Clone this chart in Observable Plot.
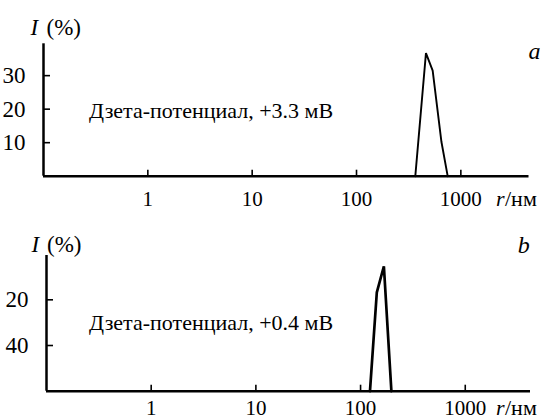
<!DOCTYPE html>
<html><head><meta charset="utf-8">
<script src="https://cdn.jsdelivr.net/npm/d3@7"></script>
<script src="https://cdn.jsdelivr.net/npm/@observablehq/plot@0.6"></script>
<style>body{margin:0;background:#fff;} svg{display:block;}</style>
</head><body><div id="chart"></div>
<script>
// Shared x axis (log scale, radius in nm)
const xTicks = [1, 10, 100, 1000];
const xTickLabels = ["1", "10", "100", "1000"];
const xUnitItalic = "r";
const xUnitRest = "/нм";
const yTitleItalic = "I";
const yTitleRest = "(%)";

// Panel a
const rA = [366, 463, 537, 652, 748];
const iA = [0, 36.7, 31.5, 10.2, 0];
const yTicksA = [10, 20, 30];
const yTickLabelsA = ["10", "20", "30"];
const letterA = "a";
const annotationA = "Дзета-потенциал, +3.3 мВ";

// Panel b
const rB = [123, 143, 167, 197];
const iB = [0, 43.3, 54.7, 0];
const yTicksB = [20, 40];
const yTickLabelsB = ["40", "20"];   // as printed in the original (top "20", lower "40")
const letterB = "b";
const annotationB = "Дзета-потенциал, +0.4 мВ";

const FONT = "Liberation Serif, DejaVu Serif, Times New Roman, serif";

function panel(o) {
  const W = 545, H = 210;
  const data = o.r.map((r, i) => ({r, I: o.I[i]}));
  const xLab = new Map(xTicks.map((d, i) => [d, xTickLabels[i]]));
  const yLab = new Map(o.yTicks.map((d, i) => [d, o.yLabels[i]]));
  const t = (fs) => ({fontFamily: FONT, fontSize: fs, fill: "#000"});
  // inward tick lengths converted to data units via the scales' pixel ranges
  const yScale = d3.scaleLinear(o.yDomain, [H - o.mb, o.mt]);
  const xScale = d3.scaleLog(o.xDomain, [o.ml, W - o.mr]);
  const xTickTop = yScale.invert(H - o.mb - 6);
  const yTickEnd = xScale.invert(o.ml + 7);
  const svg = Plot.plot({
    width: W, height: H,
    marginLeft: o.ml, marginRight: o.mr, marginTop: o.mt, marginBottom: o.mb,
    style: `font-family: ${FONT}; font-size: 21px; color: #000; background: #fff; overflow: visible;`,
    x: {type: "log", domain: o.xDomain},
    y: {domain: o.yDomain},
    marks: [
      Plot.ruleY([0], {stroke: "#000", strokeWidth: 2.5}),
      Plot.ruleX([o.xDomain[0]], {stroke: "#000", strokeWidth: 2.5}),
      Plot.ruleX(xTicks, {x: d => d, y1: 0, y2: xTickTop, stroke: "#000", strokeWidth: 1.6}),
      Plot.ruleY(o.yTicks, {y: d => d, x1: o.xDomain[0], x2: yTickEnd, stroke: "#000", strokeWidth: 1.6}),
      Plot.axisX(xTicks, {tickSize: 0, tickPadding: o.xPad, tickFormat: d => xLab.get(d), label: null, ...t(21)}),
      Plot.axisY(o.yTicks, {tickSize: 0, tickPadding: o.yPad, tickFormat: d => yLab.get(d), label: null, ...t(23)}),
      Plot.line(data, {x: "r", y: "I", stroke: "#000", strokeWidth: o.sw, strokeLinejoin: "miter"}),
      Plot.text([yTitleItalic], {text: d => d, frameAnchor: "top-left", dx: o.tI[0], dy: o.tI[1], textAnchor: "start", lineAnchor: "middle", fontStyle: "italic", ...t(23)}),
      Plot.text([yTitleRest], {text: d => d, frameAnchor: "top-left", dx: o.tP[0], dy: o.tP[1], textAnchor: "start", lineAnchor: "middle", ...t(23)}),
      Plot.text([o.letter], {text: d => d, frameAnchor: "top-right", dx: o.tL[0], dy: o.tL[1], textAnchor: "middle", lineAnchor: "middle", fontStyle: "italic", ...t(24)}),
      Plot.text([o.annotation], {text: d => d, frameAnchor: "top-left", dx: o.tA[0], dy: o.tA[1], textAnchor: "start", lineAnchor: "middle", ...t(22)}),
      Plot.text([xUnitItalic], {text: d => d, frameAnchor: "bottom-right", dx: o.tR[0], dy: o.tR[1], textAnchor: "start", lineAnchor: "middle", fontStyle: "italic", ...t(22)}),
      Plot.text([xUnitRest], {text: d => d, frameAnchor: "bottom-right", dx: o.tR[0] + 9, dy: o.tR[1], textAnchor: "start", lineAnchor: "middle", ...t(22)})
    ]
  });
  svg.querySelectorAll("text").forEach(el => { el.style.fontFamily = FONT; });
  return svg;
}

const root = document.getElementById("chart");
root.append(panel({
  r: rA, I: iA, yTicks: yTicksA, yLabels: yTickLabelsA, letter: letterA, annotation: annotationA,
  ml: 43, mr: 16.5, mt: 43.3, mb: 34.3,
  xDomain: [0.1, 4500], yDomain: [0, 39.5], xPad: 14.5, yPad: 18, sw: 1.9,
  tI: [-13, -16.3], tP: [3, -16.3], tL: [5.5, 8], tA: [45.6, 67.3], tR: [-33, 22.3]
}));
root.append(panel({
  r: rB, I: iB, yTicks: yTicksB, yLabels: yTickLabelsB, letter: letterB, annotation: annotationB,
  ml: 46, mr: 15, mt: 45, mb: 29.3,
  xDomain: [0.1, 4200], yDomain: [0, 59.4], xPad: 9, yPad: 18, sw: 2.7,
  tI: [-15, -11], tP: [0.5, -11], tL: [-6.7, -10], tA: [42.6, 67.6], tR: [-34.5, 16.3]
}));
</script>
</body></html>
